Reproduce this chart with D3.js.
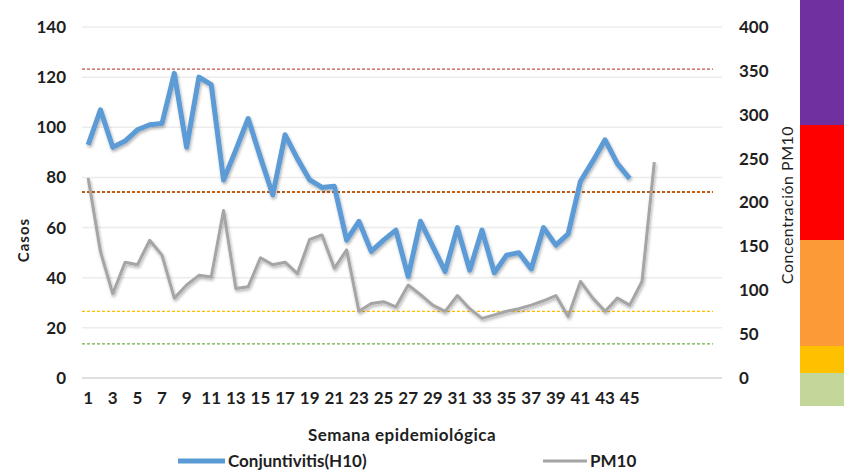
<!DOCTYPE html>
<html>
<head>
<meta charset="utf-8">
<script src="https://cdn.jsdelivr.net/npm/d3@7"></script>
<style>
  body { margin: 0; background: #fff; }
  text { font-family: Lato, "Open Sans", sans-serif; fill: #1f1f1f; font-weight: bold; }
</style>
</head>
<body>
<div id="chart"></div>
<script>

// weeks 1..52 on the category axis, labels only on odd weeks up to 45
var weeks = d3.range(1, 53);
var weekLabels = [1,3,5,7,9,11,13,15,17,19,21,23,25,27,29,31,33,35,37,39,41,43,45];

var conjuntivitis = [93,107,92,94.5,99,101,101.5,121.5,92,120,117,79,91,103.5,88,73,97,87.5,79,76,76.5,55,62.5,50.5,55,59,40.5,62.5,52.5,42.5,60,43,59,42,49,50,43.5,60,53,57.5,78.5,86.5,95,85.5,79.5];

var pm10 = [228,144,96,132,129,157,140,91,106,117,115,191,102,104,137,129,132,119,158,163,125,146,76,85,87,81,106,95,83,76,94,79,68,72,76,79,83,88,94,70,110,91,76,91,83,110,246];

var leftTicks = [0,20,40,60,80,100,120,140];
var rightTicks = [0,50,100,150,200,250,300,350,400];

// reference levels (right axis units)
var refValues = [352, 212, 76, 39];
var refColors = ["#c0504d", "#c55a11", "#ffc000", "#70ad47"];

// colour bar on the far right, bottom to top
var barBreaks = [0, 33, 60, 166, 281, 406];
var barColors = ["#c4d79b", "#ffc000", "#fd9a38", "#ff0000", "#7030a0"];

var width = 844, height = 471;

var svg = d3.select("#chart").append("svg")
  .attr("width", width)
  .attr("height", height);

var defs = svg.append("defs");
var f = defs.append("filter").attr("id", "shadow")
  .attr("x", "-5%").attr("y", "-5%").attr("width", "110%").attr("height", "120%");
f.append("feDropShadow")
  .attr("dx", 1).attr("dy", 2).attr("stdDeviation", 1.5)
  .attr("flood-color", "#000").attr("flood-opacity", 0.3);

var x = d3.scaleBand().domain(weeks).range([82, 722]);
var yL = d3.scaleLinear().domain([0, 140]).range([378, 27]);
var yR = d3.scaleLinear().domain([0, 400]).range([378, 27]);

// gridlines
svg.append("g").selectAll("line")
  .data(leftTicks)
  .enter().append("line")
  .attr("x1", 82).attr("x2", 722)
  .attr("y1", function(d){ return yL(d) })
  .attr("y2", function(d){ return yL(d) })
  .attr("stroke", function(d){ return d == 0 ? "#d4d4d4" : "#ececec" })
  .attr("stroke-width", 1.5);

// dashed reference lines
svg.append("g").selectAll("line")
  .data(refValues)
  .enter().append("line")
  .attr("x1", 82).attr("x2", 713)
  .attr("y1", function(d){ return yR(d) })
  .attr("y2", function(d){ return yR(d) })
  .attr("stroke", function(d, i){ return refColors[i] })
  .attr("stroke-width", function(d, i){ return i == 1 ? 2 : 1.2 })
  .attr("stroke-dasharray", "3,2");

// left axis
var yAxisL = d3.axisLeft(yL).tickValues(leftTicks).tickSize(0).tickPadding(0);
var gL = svg.append("g")
  .attr("transform", "translate(66,0)")
  .call(yAxisL);
gL.select(".domain").remove();
gL.selectAll("text").style("font-size", "17px").attr("fill", "#1f1f1f");

// right axis
var yAxisR = d3.axisRight(yR).tickValues(rightTicks).tickSize(0).tickPadding(0);
var gR = svg.append("g")
  .attr("transform", "translate(739,0)")
  .call(yAxisR);
gR.select(".domain").remove();
gR.selectAll("text").style("font-size", "17px").attr("fill", "#1f1f1f");

// x axis
var xAxis = d3.axisBottom(x).tickValues(weekLabels).tickSize(0).tickPadding(0);
var gX = svg.append("g")
  .attr("transform", "translate(0,392)")
  .call(xAxis);
gX.select(".domain").remove();
gX.selectAll("text").style("font-size", "17px").attr("fill", "#1f1f1f");

// lines
var lineL = d3.line()
  .x(function(d, i){ return x(weeks[i]) + x.bandwidth()/2 })
  .y(function(d){ return yL(d) });
var lineR = d3.line()
  .x(function(d, i){ return x(weeks[i]) + x.bandwidth()/2 })
  .y(function(d){ return yR(d) });

svg.append("path")
  .datum(conjuntivitis)
  .attr("d", lineL)
  .attr("fill", "none")
  .attr("stroke", "#5b9bd5")
  .attr("stroke-width", 5)
  .attr("stroke-linejoin", "round")
  .attr("filter", "url(#shadow)");

svg.append("path")
  .datum(pm10)
  .attr("d", lineR)
  .attr("fill", "none")
  .attr("stroke", "#a5a5a5")
  .attr("stroke-width", 3)
  .attr("stroke-linejoin", "round")
  .attr("filter", "url(#shadow)");

// axis titles
svg.append("text")
  .attr("transform", "translate(29,240) rotate(-90)")
  .attr("text-anchor", "middle")
  .style("font-size", "15px")
  .style("letter-spacing", "1px")
  .text("Casos");

svg.append("text")
  .attr("transform", "translate(793,205) rotate(-90)")
  .attr("text-anchor", "middle")
  .style("font-size", "16px")
  .style("font-weight", "normal")
  .style("letter-spacing", "0.5px")
  .text("Concentración PM10");

svg.append("text")
  .attr("x", 402).attr("y", 441)
  .attr("text-anchor", "middle")
  .style("font-size", "17px")
  .style("letter-spacing", "0.5px")
  .text("Semana epidemiológica");

// legend
var legend = [
  {name: "Conjuntivitis(H10)", color: "#5b9bd5", w: 5, x0: 178, x1: 225},
  {name: "PM10", color: "#a5a5a5", w: 3, x0: 543, x1: 587}
];
var lg = svg.append("g").selectAll("g").data(legend).enter().append("g");
lg.append("line")
  .attr("x1", function(d){ return d.x0 }).attr("x2", function(d){ return d.x1 })
  .attr("y1", 461).attr("y2", 461)
  .attr("stroke", function(d){ return d.color })
  .attr("stroke-width", function(d){ return d.w });
lg.append("text")
  .attr("x", function(d){ return d.x1 + 3 })
  .attr("y", 467)
  .style("font-size", "17px")
  .text(function(d){ return d.name });

// colour bar
var barY = d3.scaleLinear().domain([0, 406]).range([406, 0]);
svg.append("g").selectAll("rect")
  .data(barColors)
  .enter().append("rect")
  .attr("x", 800).attr("width", 44)
  .attr("y", function(d, i){ return barY(barBreaks[i+1]) })
  .attr("height", function(d, i){ return barY(barBreaks[i]) - barY(barBreaks[i+1]) })
  .attr("fill", function(d){ return d });

</script>
</body>
</html>
